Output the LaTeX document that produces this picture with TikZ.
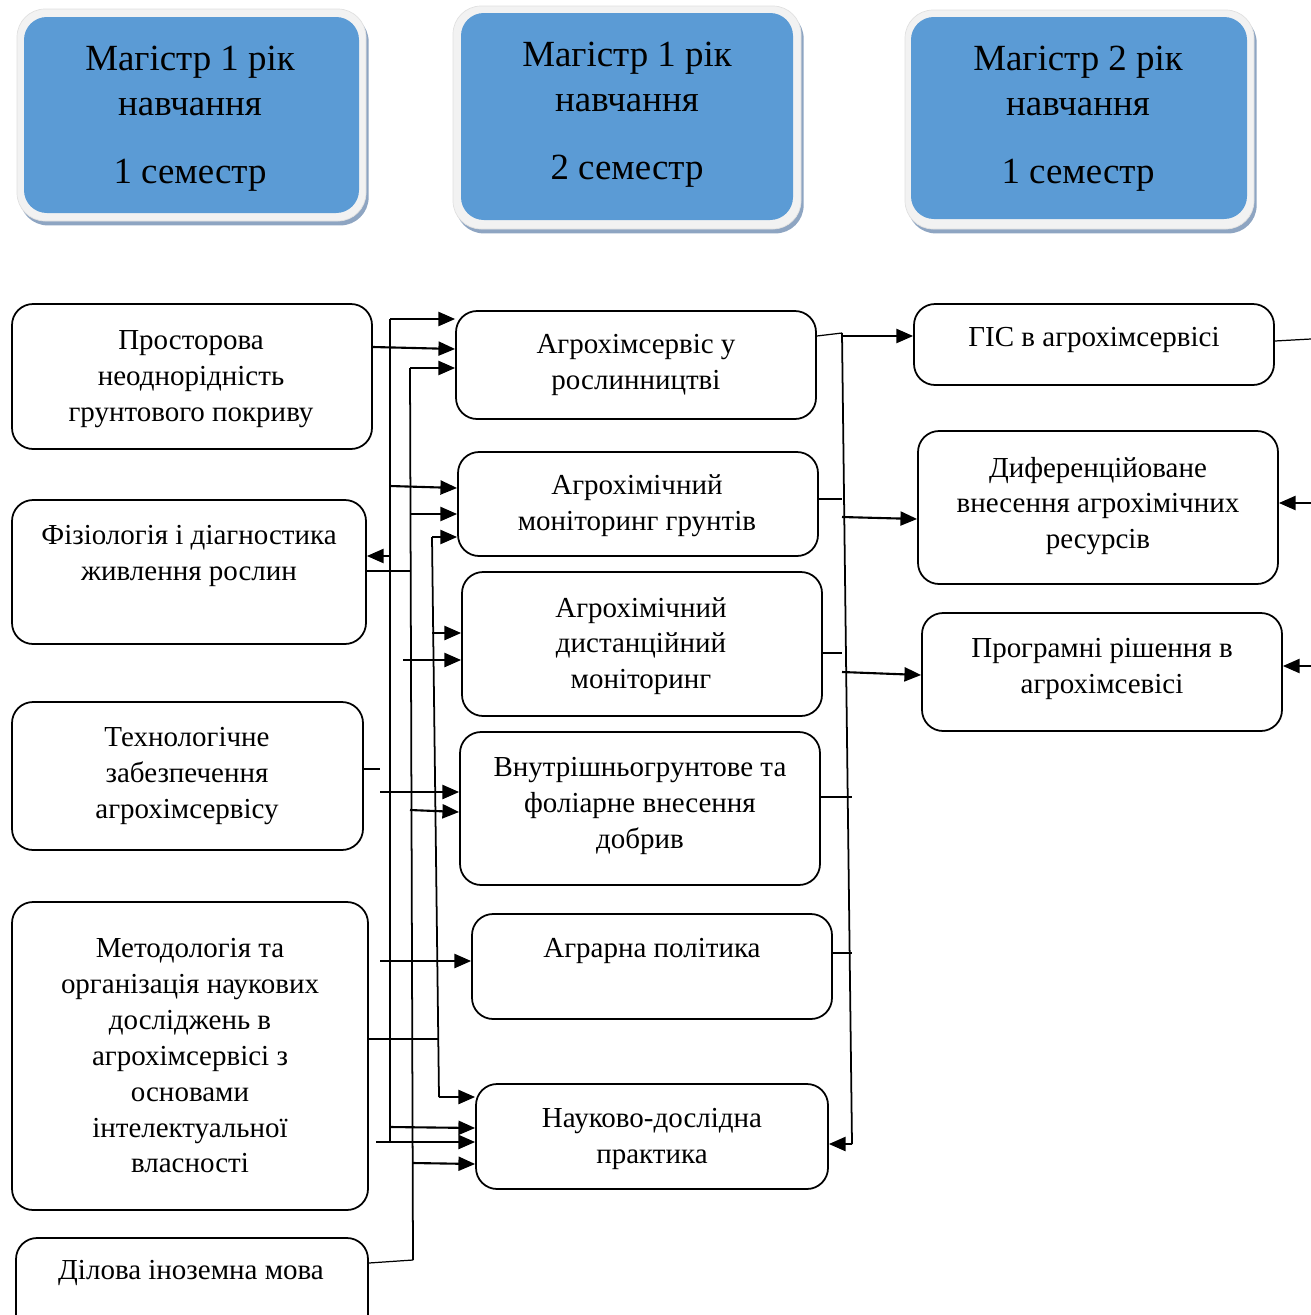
\documentclass[tikz,border=0pt]{standalone}
\usepackage{fontspec}
\setmainfont{Liberation Serif}
\usetikzlibrary{arrows.meta,fit,shadows}

\definecolor{headblue}{HTML}{5B9BD5}
\definecolor{headrim}{HTML}{F2F2F2}
\definecolor{headshade}{HTML}{8EA5C2}

\tikzset{
  rim/.style={fill=headrim, draw=black!12, rounded corners=16pt, inner sep=0pt,
    drop shadow={shadow xshift=1.5pt, shadow yshift=-2.5pt, fill=headshade, opacity=1}},
  core/.style={fill=headblue, rounded corners=13pt, inner sep=0pt},
  box/.style={draw, line width=1pt, rounded corners=12pt, inner sep=0pt},
  head/.style={align=center, font=\fontsize{21}{25.5}\selectfont},
  txt/.style={align=center, font=\fontsize{16.5}{20.4}\selectfont},
  link/.style={line width=1.2pt},
  bus/.style={line width=1pt},
  stub/.style={line width=0.7pt}
}

\begin{document}
\begin{tikzpicture}
    [x=0.02cm, y=-0.02cm
    ,>={Triangle[length=9.5pt,width=8pt]}
    ]

    \useasboundingbox (0,0) rectangle (1311,1315);

    % headers
    \node[rim, fit={(17,9) (366,221)}] (h1o) {};
    \node[core, fit={(24,17) (359,213)}] (h1) {};
    \node[head] (h1t) at (190,119) {Магістр 1 рік\\навчання\\[13.5pt]1 семестр};

    \node[rim, fit={(453,6) (801,229)}] (h2o) {};
    \node[core, fit={(461,13) (793,220)}] (h2) {};
    \node[head] (h2t) at (627,115) {Магістр 1 рік\\навчання\\[13.5pt]2 семестр};

    \node[rim, fit={(905,10) (1254,229)}] (h3o) {};
    \node[core, fit={(911,17) (1247,219)}] (h3) {};
    \node[head] (h3t) at (1078,119) {Магістр 2 рік\\навчання\\[13.5pt]1 семестр};

    % left column
    \node[box, fit={(12,304) (372,449)}] (l1) {};
    \node[txt] (l1t) at (191,379) {Просторова\\неоднорідність\\грунтового покриву};
    \node[box, fit={(12,500) (366,644)}] (l2) {};
    \node[txt] (l2t) at (189,556) {Фізіологія і діагностика\\живлення рослин};
    \node[box, fit={(12,702) (363,850)}] (l3) {};
    \node[txt] (l3t) at (187,776) {Технологічне\\забезпечення\\агрохімсервісу};
    \node[box, fit={(12,902) (368,1210)}] (l4) {};
    \node[txt] (l4t) at (190,1056) {Методологія та\\організація наукових\\досліджень в\\агрохімсервісі з\\основами\\інтелектуальної\\власності};
    \node[box, fit={(16,1238) (368,1345)}] (l5) {};
    \node[txt] (l5t) at (191,1273) {Ділова іноземна мова};

    % middle column
    \node[box, fit={(456,311) (816,419)}] (m1) {};
    \node[txt] (m1t) at (636,365) {Агрохімсервіс у\\рослинництві};
    \node[box, fit={(458,452) (818,556)}] (m2) {};
    \node[txt] (m2t) at (637,506) {Агрохімічний\\моніторинг грунтів};
    \node[box, fit={(462,572) (822,716)}] (m3) {};
    \node[txt] (m3t) at (641,646) {Агрохімічний\\дистанційний\\моніторинг};
    \node[box, fit={(460,732) (820,885)}] (m4) {};
    \node[txt] (m4t) at (640,806) {Внутрішньогрунтове та\\фоліарне внесення\\добрив};
    \node[box, fit={(472,914) (832,1019)}] (m5) {};
    \node[txt] (m5t) at (652,951) {Аграрна політика};
    \node[box, fit={(476,1084) (828,1189)}] (m6) {};
    \node[txt] (m6t) at (652,1139) {Науково-дослідна\\практика};

    % right column
    \node[box, fit={(914,304) (1274,385)}] (r1) {};
    \node[txt] (r1t) at (1094,340) {ГІС в агрохімсервісі};
    \node[box, fit={(918,431) (1278,584)}] (r2) {};
    \node[txt] (r2t) at (1098,506) {Диференційоване\\внесення агрохімічних\\ресурсів};
    \node[box, fit={(922,613) (1282,731)}] (r3) {};
    \node[txt] (r3t) at (1102,669) {Програмні рішення в\\агрохімсевісі};

    % bus lines
    \coordinate (aTop) at (390,319);
    \coordinate (aBot) at (390,1142);
    \coordinate (bTop) at (410,368);
    \coordinate (bBot) at (413,1260);
    \coordinate (cTop) at (432,537);
    \coordinate (cBot) at (439,1097);
    \coordinate (dTop) at (842,333);
    \coordinate (dBot) at (852,1144);

    \draw[bus] (aTop) -- (aBot);
    \draw[bus] (bTop) -- (bBot);
    \draw[bus] (cTop) -- (cBot);
    \draw[bus] (dTop) -- (dBot);

    % left side links
    \draw[link,->] (aTop) -- (aTop -| m1.west);
    \draw[link,->] (l1.east |- 0,347) -- (m1.west |- 0,349);
    \draw[link,->] (bTop) -- (m1.west |- bTop);
    \draw[link,->] (aTop |- 0,486) -- (m2.west |- 0,488);
    \draw[link,->] (bTop |- 0,514) -- (m2.west |- 0,514);
    \draw[link,->] (cTop) -- (m2.west |- cTop);
    \draw[link,->] (aTop |- 0,556) -- (l2.east |- 0,556);
    \draw[stub] (l2.east |- 0,571) -- (bTop |- 0,571);
    \draw[link,->] (cTop |- 0,633) -- (m3.west |- 0,633);
    \coordinate (s3) at (403,660);
    \draw[link,->] (s3) -- (m3.west |- s3);
    \coordinate (t3) at (380,769);
    \draw[stub] (l3.east |- t3) -- (t3);
    \coordinate (s4) at (380,792);
    \draw[link,->] (s4) -- (m4.west |- s4);
    \draw[link,->] (bTop |- 0,810) -- (m4.west |- 0,812);
    \coordinate (s5) at (380,961);
    \draw[link,->] (s5) -- (m5.west |- s5);
    \draw[stub] (l4.east |- 0,1039) -- (cBot |- 0,1039);
    \draw[link,->] (cBot) -- (m6.west |- cBot);
    \draw[link,->] (aBot |- 0,1127) -- (m6.west |- 0,1128);
    \coordinate (s6) at (376,1142);
    \draw[link,->] (s6) -- (m6.west |- s6);
    \draw[link,->] (bBot |- 0,1163) -- (m6.west |- 0,1164);
    \draw[stub] (l5.east |- 0,1263) -- (bBot);

    % right side links
    \draw[stub] (m1.east |- 0,336) -- (dTop);
    \draw[link,->] (dTop |- 0,336) -- (r1.west |- 0,336);
    \draw[stub] (m2.east |- 0,499) -- (dTop |- 0,499);
    \draw[link,->] (dTop |- 0,517) -- (r2.west |- 0,519);
    \draw[stub] (m3.east |- 0,653) -- (dTop |- 0,653);
    \draw[link,->] (dTop |- 0,672) -- (r3.west |- 0,675);
    \draw[stub] (m4.east |- 0,797) -- (dBot |- 0,797);
    \draw[stub] (m5.east |- 0,953) -- (dBot |- 0,953);
    \draw[link,->] (dBot) -- (m6.east |- dBot);

    \coordinate (e1) at (1311,339);
    \coordinate (e2) at (1311,503);
    \coordinate (e3) at (1311,666);
    \draw[stub] (r1.east |- 0,341) -- (e1);
    \draw[link,->] (e2) -- (r2.east |- e2);
    \draw[link,->] (e3) -- (r3.east |- e3);

  \end{tikzpicture}
\end{document}
